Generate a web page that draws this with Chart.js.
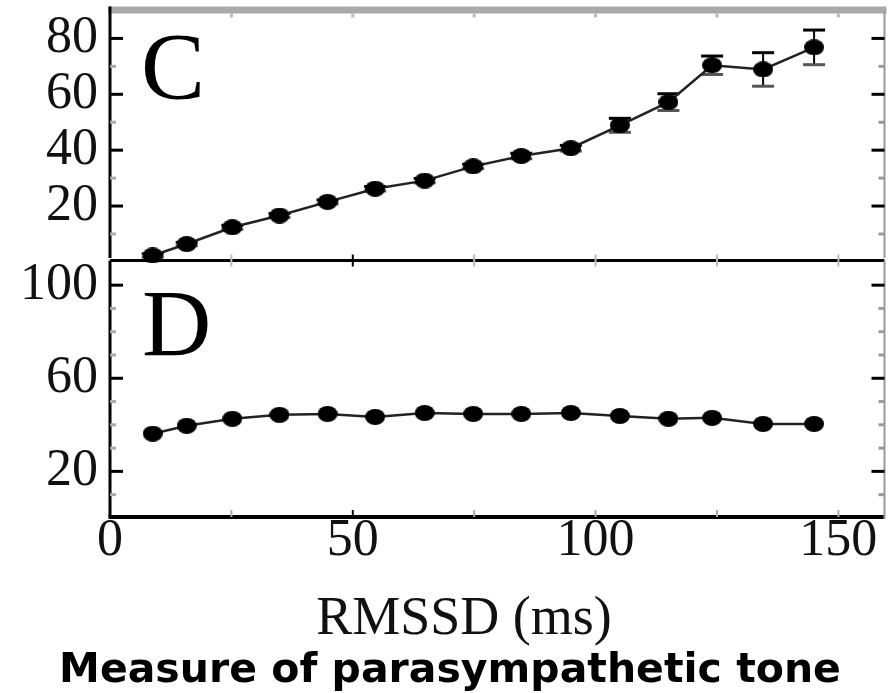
<!DOCTYPE html>
<html>
<head>
<meta charset="utf-8">
<script src="https://cdn.jsdelivr.net/npm/chart.js@4/dist/chart.umd.min.js"></script>
<style>
  html, body { margin: 0; padding: 0; background: #fff; }
  #wrap { position: relative; width: 895px; height: 693px; overflow: hidden; background: #fff; }
  #wrap canvas { position: absolute; left: 0; }
  #cvC { top: 0; z-index: 2; }
  #cvD { top: 250px; z-index: 1; }
</style>
</head>
<body>
<div id="wrap">
  <canvas id="cvD" width="895" height="443"></canvas>
  <canvas id="cvC" width="895" height="272"></canvas>
</div>
<script>
// RMSSD bin centres (ms)
const rmssd = [8.8, 15.8, 25.2, 34.9, 44.8, 54.6, 64.8, 74.8, 84.7, 94.9, 105, 115, 124, 134.5, 145];
// Panel C: mean values and standard errors
const panelC = [2.3, 6.4, 12.4, 16.6, 21.5, 26.2, 29.1, 34.2, 37.9, 40.7, 48.9, 57.2, 70.4, 68.9, 76.8];
const panelCErr = [0.6, 0.6, 0.7, 0.7, 0.7, 0.8, 0.8, 0.8, 1, 1, 2.5, 3, 3.3, 6, 6.2];
// Panel D: mean values
const panelD = [36.2, 39.6, 42.6, 44.3, 44.7, 43.4, 45.1, 44.7, 44.7, 45.1, 43.8, 42.6, 43.0, 40.4, 40.4];

// Axis ticks
const cTicks = [20, 40, 60, 80];
const cMinor = [10, 30, 50, 70];
const dTicks = [20, 60, 100];
const dMinor = [10, 30, 40, 50, 70, 80, 90];
const xTicks = [0, 50, 100, 150];
const xMinor = [25, 75, 125];

const xTitle = 'RMSSD (ms)';
const mainTitle = 'Measure of parasympathetic tone';

const SERIF = '"Liberation Serif", "Times New Roman", serif';
const tickFont = { family: SERIF, size: 52, lineHeight: 1 };

function ellipseMarker(w, h) {
  const c = document.createElement('canvas');
  c.width = w; c.height = h;
  const g = c.getContext('2d');
  g.fillStyle = '#000';
  g.beginPath();
  g.ellipse(w / 2, h / 2, w / 2, h / 2, 0, 0, Math.PI * 2);
  g.fill();
  return c;
}
const marker = ellipseMarker(20, 16);

function line(ctx, x1, y1, x2, y2, color, w) {
  ctx.strokeStyle = color;
  ctx.lineWidth = w;
  ctx.beginPath();
  ctx.moveTo(x1, y1);
  ctx.lineTo(x2, y2);
  ctx.stroke();
}

// inward ticks on both vertical edges
function sideTicks(ctx, a, yScale, major, minor) {
  major.forEach(v => {
    const p = yScale.getPixelForValue(v);
    line(ctx, a.left, p, a.left + 13, p, '#000', 3);
    line(ctx, a.right, p, a.right - 13, p, '#000', 3);
  });
  minor.forEach(v => {
    const p = yScale.getPixelForValue(v);
    line(ctx, a.left, p, a.left + 6, p, '#aaa', 3);
    line(ctx, a.right, p, a.right - 6, p, '#999', 3);
  });
}

function noPadding(s) {
  s.paddingTop = 0; s.paddingBottom = 0; s.paddingLeft = 0; s.paddingRight = 0;
}

function xScaleOpts(display) {
  return {
    type: 'linear',
    display: display,
    min: 0,
    max: 159.5,
    grid: { display: false, drawTicks: false },
    border: { display: false },
    afterBuildTicks: s => { s.ticks = xTicks.map(v => ({ value: v })); },
    ticks: { font: tickFont, color: '#111', padding: -2, maxRotation: 0, autoSkip: false },
    afterFit: s => { s.height = display ? 134 : 0; noPadding(s); }
  };
}

function yScaleOpts(min, max, ticks) {
  return {
    type: 'linear',
    min: min,
    max: max,
    grid: { display: false, drawTicks: false },
    border: { display: false },
    afterBuildTicks: s => { s.ticks = ticks.map(v => ({ value: v })); },
    ticks: { font: tickFont, color: '#111', padding: 12, autoSkip: false },
    afterFit: s => { s.width = 95; noPadding(s); }
  };
}

function lineDataset(values) {
  return {
    data: rmssd.map((x, i) => ({ x: x, y: values[i] })),
    borderColor: '#222',
    borderWidth: 2.5,
    pointStyle: marker,
    pointRadius: 8,
    pointHoverRadius: 8,
    tension: 0,
    clip: false
  };
}

// Panel C
const panelCPlugin = {
  id: 'panelC',
  beforeDatasetsDraw(chart) {
    const { ctx, scales: { x, y } } = chart;
    ctx.save();
    rmssd.forEach((xv, i) => {
      const px = x.getPixelForValue(xv);
      const hi = y.getPixelForValue(panelC[i] + panelCErr[i]);
      const lo = y.getPixelForValue(panelC[i] - panelCErr[i]);
      line(ctx, px, hi, px, lo, '#000', 2);
      line(ctx, px - 11, hi, px + 11, hi, '#000', 3);
      line(ctx, px - 11, lo, px + 11, lo, '#555', 3);
    });
    ctx.restore();
  },
  afterDraw(chart) {
    const { ctx, chartArea: a, scales: { x, y } } = chart;
    ctx.save();
    // top border
    ctx.fillStyle = '#aaa';
    ctx.fillRect(a.left - 2, a.top - 4, a.right - a.left + 4, 7);
    xMinor.concat(xTicks.slice(1)).forEach(v => {
      const p = x.getPixelForValue(v);
      line(ctx, p, a.top + 3, p, a.top + 7, '#bbb', 3);
    });
    // frame
    line(ctx, a.left, a.top - 4, a.left, a.bottom, '#000', 3);
    line(ctx, a.right, a.top, a.right, a.bottom, '#999', 2);
    sideTicks(ctx, a, y, cTicks, cMinor);
    // panel letter
    ctx.fillStyle = '#000';
    ctx.font = '96px ' + SERIF;
    ctx.textBaseline = 'alphabetic';
    ctx.textAlign = 'left';
    ctx.fillText('C', 141, 99);
    ctx.restore();
  }
};

new Chart(document.getElementById('cvC'), {
  type: 'line',
  data: { datasets: [lineDataset(panelC)] },
  options: {
    responsive: false,
    devicePixelRatio: 1,
    animation: false,
    events: [],
    layout: { padding: { top: 10, bottom: 14, left: 15, right: 10 } },
    plugins: { legend: { display: false }, tooltip: { enabled: false }, title: { display: false } },
    scales: { x: xScaleOpts(false), y: yScaleOpts(1.4, 90, cTicks) }
  },
  plugins: [panelCPlugin]
});

// Panel D
const panelDPlugin = {
  id: 'panelD',
  afterDraw(chart) {
    const { ctx, chartArea: a, scales: { x, y } } = chart;
    ctx.save();
    // divider and bottom axis
    line(ctx, a.left, a.top, a.right, a.top, '#000', 3);
    line(ctx, a.left - 1.5, a.bottom, a.right, a.bottom, '#000', 4);
    xMinor.concat(xTicks.slice(1)).forEach(v => {
      const p = x.getPixelForValue(v);
      const dark = v === 50;
      line(ctx, p, a.top - 6, p, a.top + 6, dark ? '#000' : '#bbb', 2);
      line(ctx, p, a.bottom - 7, p, a.bottom, dark ? '#000' : '#aaa', 2);
    });
    line(ctx, a.left, a.top, a.left, a.bottom, '#000', 3);
    line(ctx, a.right, a.top, a.right, a.bottom + 2, '#999', 2);
    sideTicks(ctx, a, y, dTicks, dMinor);
    // panel letter
    ctx.fillStyle = '#000';
    ctx.font = '96px ' + SERIF;
    ctx.textBaseline = 'alphabetic';
    ctx.textAlign = 'left';
    ctx.fillText('D', 142, 106);
    // axis title
    ctx.font = '54px ' + SERIF;
    ctx.textAlign = 'center';
    ctx.fillStyle = '#111';
    ctx.fillText(xTitle, 464, 384);
    ctx.restore();
  }
};

new Chart(document.getElementById('cvD'), {
  type: 'line',
  data: { datasets: [lineDataset(panelD)] },
  options: {
    responsive: false,
    devicePixelRatio: 1,
    animation: false,
    events: [],
    layout: { padding: { top: 8, bottom: 0, left: 15, right: 10 } },
    plugins: {
      legend: { display: false },
      tooltip: { enabled: false },
      title: {
        display: true,
        position: 'bottom',
        text: mainTitle,
        color: '#000',
        font: { family: '"DejaVu Sans", sans-serif', size: 41, weight: 'bold', lineHeight: 1 },
        padding: { top: 0, bottom: 1 }
      }
    },
    scales: { x: xScaleOpts(true), y: yScaleOpts(0.4, 110.6, dTicks) }
  },
  plugins: [panelDPlugin]
});
</script>
</body>
</html>
